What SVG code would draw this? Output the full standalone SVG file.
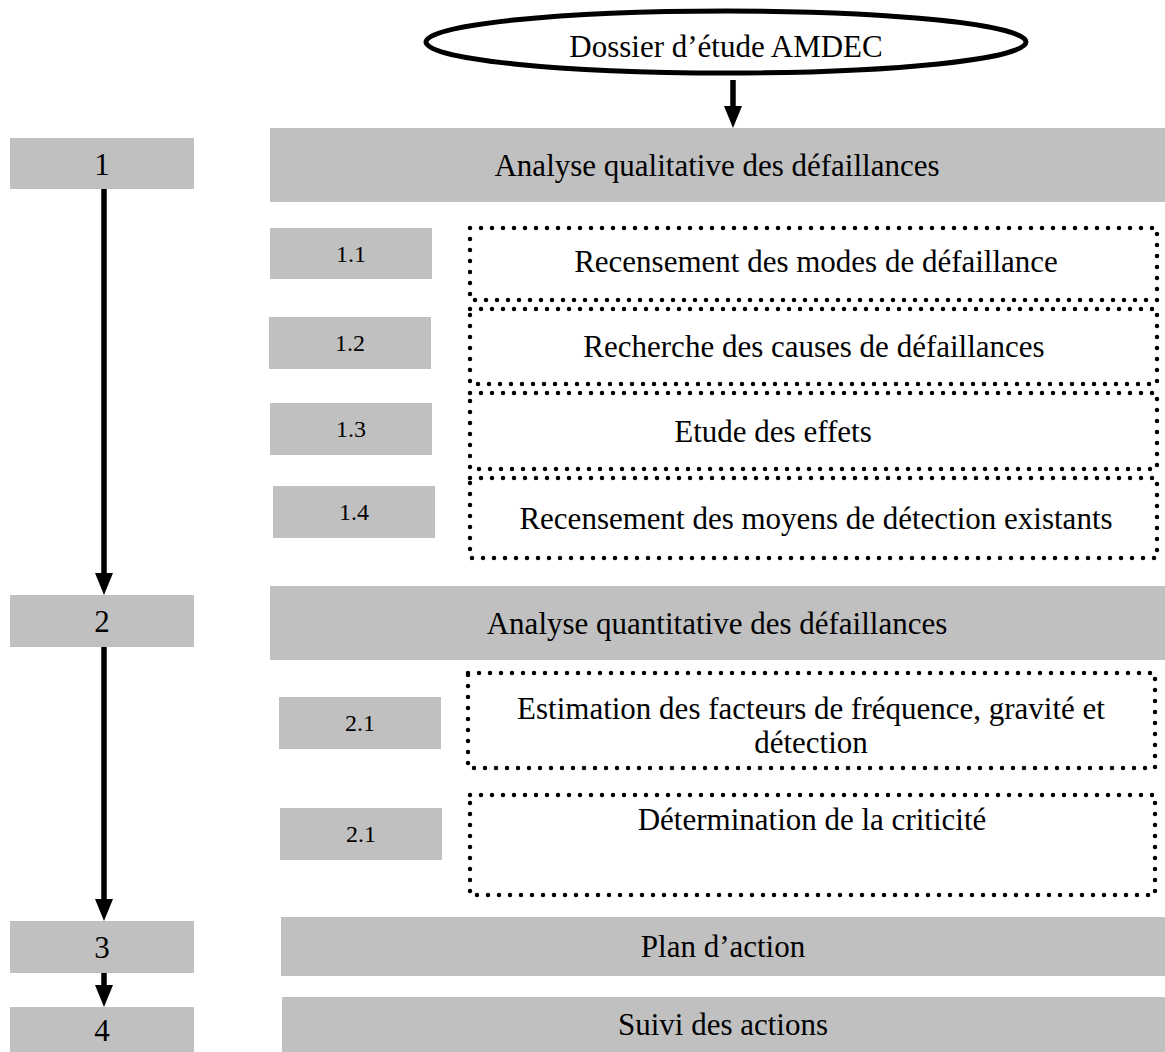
<svg xmlns="http://www.w3.org/2000/svg" width="1165" height="1052" viewBox="0 0 1165 1052">
<style>
text{font-family:"Liberation Serif","Times New Roman",serif;fill:#000;text-anchor:middle}
.big{font-size:31px}
.small{font-size:24px}
.grey{fill:#c0c0c0;stroke:none}
.dot{fill:none;stroke:#000;stroke-width:4.5;stroke-linecap:round;stroke-dasharray:0 11}
.shaft{stroke:#000;stroke-width:5.5;fill:none}
</style>
<defs>
<marker id="ah" markerUnits="userSpaceOnUse" markerWidth="22" markerHeight="18" viewBox="0 0 22 18" refX="2" refY="9" orient="auto">
<path d="M0,0 L22,9 L0,18 Z" fill="#000"/>
</marker>
</defs>
<rect width="1165" height="1052" fill="#fff"/>
<g id="start">
<ellipse cx="726" cy="42" rx="300" ry="31" fill="#fff" stroke="#000" stroke-width="5"/>
<text class="big" x="726" y="57">Dossier d’étude AMDEC</text>
</g>
<g id="step1"><rect class="grey" x="10" y="138" width="184" height="51"/><text class="big" x="102" y="175">1</text></g>
<g id="phase1"><rect class="grey" x="270" y="128" width="895" height="74"/><text class="big" x="717" y="176">Analyse qualitative des défaillances</text></g>
<g id="step1_1"><rect class="grey" x="270" y="228" width="162" height="51"/><text class="small" x="351" y="262">1.1</text></g>
<g id="step1_2"><rect class="grey" x="269" y="317" width="162" height="52"/><text class="small" x="350" y="351">1.2</text></g>
<g id="step1_3"><rect class="grey" x="270" y="403" width="162" height="52"/><text class="small" x="351" y="437">1.3</text></g>
<g id="step1_4"><rect class="grey" x="273" y="486" width="162" height="52"/><text class="small" x="354" y="520">1.4</text></g>
<g id="task1_1"><rect class="dot" x="470" y="228" width="687" height="72"/><text class="big" x="816" y="272">Recensement des modes de défaillance</text></g>
<g id="task1_2"><rect class="dot" x="470" y="309" width="687" height="75"/><text class="big" x="814" y="357">Recherche des causes de défaillances</text></g>
<g id="task1_3"><rect class="dot" x="470" y="393" width="687" height="76"/><text class="big" x="773" y="442">Etude des effets</text></g>
<g id="task1_4"><rect class="dot" x="470" y="478" width="687" height="80"/><text class="big" x="816" y="529">Recensement des moyens de détection existants</text></g>
<g id="step2"><rect class="grey" x="10" y="595" width="184" height="52"/><text class="big" x="102" y="632">2</text></g>
<g id="phase2"><rect class="grey" x="270" y="586" width="895" height="74"/><text class="big" x="717" y="634">Analyse quantitative des défaillances</text></g>
<g id="step2_1a"><rect class="grey" x="279" y="697" width="162" height="52"/><text class="small" x="360" y="731">2.1</text></g>
<g id="step2_1b"><rect class="grey" x="280" y="808" width="162" height="52"/><text class="small" x="361" y="842">2.1</text></g>
<g id="task2_1"><rect class="dot" x="468" y="673" width="687" height="95"/><text class="big" x="811" y="719">Estimation des facteurs de fréquence, gravité et</text><text class="big" x="811" y="753">détection</text></g>
<g id="task2_2"><rect class="dot" x="470" y="795" width="685" height="100"/><text class="big" x="812" y="830">Détermination de la criticité</text></g>
<g id="step3"><rect class="grey" x="10" y="921" width="184" height="52"/><text class="big" x="102" y="958">3</text></g>
<g id="phase3"><rect class="grey" x="281" y="917" width="884" height="59"/><text class="big" x="723" y="957">Plan d’action</text></g>
<g id="step4"><rect class="grey" x="10" y="1007" width="184" height="45"/><text class="big" x="102" y="1041">4</text></g>
<g id="phase4"><rect class="grey" x="282" y="997" width="883" height="55"/><text class="big" x="723" y="1035">Suivi des actions</text></g>
<g id="connectors">
<line class="shaft" x1="733" y1="80" x2="733" y2="108" marker-end="url(#ah)"/>
<line class="shaft" x1="104" y1="189" x2="104" y2="575" marker-end="url(#ah)"/>
<line class="shaft" x1="104" y1="647" x2="104" y2="901" marker-end="url(#ah)"/>
<line class="shaft" x1="104" y1="973" x2="104" y2="987" marker-end="url(#ah)"/>
</g>
</svg>
